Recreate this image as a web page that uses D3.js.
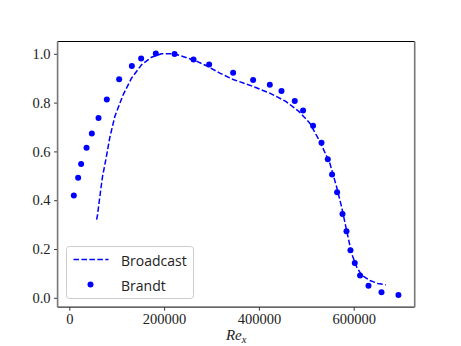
<!DOCTYPE html>
<html lang="en">
<head>
    <meta charset="UTF-8">
    <title>Broadcast vs Brandt</title>
    <script src="https://cdn.jsdelivr.net/npm/d3@7/dist/d3.min.js"></script>
    <style>
        body { margin: 0; background: #fff; }
    </style>
</head>
<body>
<svg width="461" height="346" id="main"></svg>
<script>

    // Broadcast (dashed line)
    let broadcastX = [57600, 59500, 64400, 70000, 77000, 85500, 96000, 113500, 131200, 152300,
        173400, 194500, 219000, 233100, 264800, 289500, 317500, 345600, 387800, 423000,
        456800, 484200, 507400, 528500, 549600, 563800, 574300, 584800, 595400, 606000,
        616500, 634000, 651000, 667800];
    let broadcastY = [0.320, 0.340, 0.415, 0.497, 0.566, 0.658, 0.743, 0.832, 0.900, 0.955,
        0.986, 1.000, 1.000, 0.993, 0.973, 0.951, 0.921, 0.895, 0.866, 0.839,
        0.805, 0.764, 0.716, 0.641, 0.552, 0.456, 0.374, 0.279, 0.183, 0.128,
        0.094, 0.071, 0.059, 0.053];

    // Brandt (dots)
    let brandtX = [9500, 18600, 24900, 36300, 47500, 61600, 79100, 105100, 131900, 151500,
        182500, 222000, 262000, 295000, 345600, 387800, 423000, 447700, 475700, 493200,
        514300, 532100, 545400, 554400, 565000, 576400, 584800, 593200, 602300, 613500,
        631200, 658700, 694500];
    let brandtY = [0.419, 0.492, 0.548, 0.615, 0.673, 0.737, 0.813, 0.896, 0.950, 0.981,
        1.001, 0.999, 0.977, 0.956, 0.922, 0.893, 0.873, 0.848, 0.807, 0.768,
        0.705, 0.636, 0.568, 0.505, 0.433, 0.343, 0.273, 0.195, 0.143, 0.091,
        0.049, 0.023, 0.011];

    let xTicks = [0, 200000, 400000, 600000];
    let yTicks = [0.0, 0.2, 0.4, 0.6, 0.8, 1.0];

    const serif = "'Liberation Serif', 'Times New Roman', 'DejaVu Serif', serif";

    draw();

    function draw() {
        let margin = {top: 41.5, right: 46.1, bottom: 38.4, left: 57.6};
        let width = 460.8, height = 345.6;
        let svg = d3.select('#main');

        let allX = broadcastX.concat(brandtX), allY = broadcastY.concat(brandtY);
        let [x0, x1] = d3.extent(allX), [y0, y1] = d3.extent(allY);
        let px = (x1 - x0) * 0.05, py = (y1 - y0) * 0.05;

        let x = d3.scaleLinear()
            .domain([x0 - px, x1 + px])
            .range([margin.left, width - margin.right]);
        let y = d3.scaleLinear()
            .domain([y0 - py, y1 + py])
            .range([height - margin.bottom, margin.top]);

        let styleTicks = g => {
            g.attr("font-family", null).attr("font-size", null);
            g.select(".domain").remove();
            g.selectAll(".tick line").attr("stroke", "#000").attr("stroke-width", 0.8);
            g.selectAll(".tick text")
                .style("font-family", serif)
                .style("font-size", "14.5px")
                .attr("fill", "#222");
        };

        // axes
        svg.append("g")
            .attr("transform", `translate(0,${height - margin.bottom})`)
            .call(d3.axisBottom(x).tickValues(xTicks).tickFormat(d3.format("d"))
                .tickSize(3.5).tickPadding(3.5).tickSizeOuter(0))
            .call(styleTicks);
        svg.append("g")
            .attr("transform", `translate(${margin.left},0)`)
            .call(d3.axisLeft(y).tickValues(yTicks).tickFormat(d3.format(".1f"))
                .tickSize(3.5).tickPadding(3.5).tickSizeOuter(0))
            .call(styleTicks);

        let line = d3.line()
            .x((d, i) => x(broadcastX[i]))
            .y(d => y(d));
        svg.append("path")
            .datum(broadcastY)
            .attr("fill", "none")
            .attr("stroke", "#0000ff")
            .attr("stroke-width", 1.5)
            .attr("stroke-dasharray", "5.55,2.4")
            .attr("d", line);

        svg.append("g")
            .attr("fill", "#0000ff")
            .selectAll("circle")
            .data(brandtY)
            .join("circle")
            .attr("cx", (d, i) => x(brandtX[i]))
            .attr("cy", d => y(d))
            .attr("r", 3);

        // spines (left/right come out grey in the original)
        let L = margin.left, R = width - margin.right, T = margin.top, B = height - margin.bottom;
        let spines = svg.append("g").attr("fill", "none");
        spines.append("line").attr("x1", L).attr("x2", R).attr("y1", 41.5).attr("y2", 41.5)
            .attr("stroke", "#000").attr("stroke-width", 1);
        spines.append("line").attr("x1", L).attr("x2", R).attr("y1", B).attr("y2", B)
            .attr("stroke", "#333").attr("stroke-width", 1.2);
        spines.append("line").attr("x1", L).attr("x2", L).attr("y1", T).attr("y2", B)
            .attr("stroke", "#777").attr("stroke-width", 1.6);
        spines.append("line").attr("x1", R).attr("x2", R).attr("y1", T).attr("y2", B)
            .attr("stroke", "#777").attr("stroke-width", 1.6);

        // legend
        let lg = svg.append("g");
        lg.append("rect")
            .attr("x", 66.5).attr("y", 246.5).attr("width", 127).attr("height", 52)
            .attr("rx", 3).attr("fill", "#fff").attr("fill-opacity", 0.8)
            .attr("stroke", "#ccc").attr("stroke-width", 1);
        lg.append("line")
            .attr("x1", 73.5).attr("x2", 108.5).attr("y1", 259.5).attr("y2", 259.5)
            .attr("stroke", "#0000ff").attr("stroke-width", 1.5)
            .attr("stroke-dasharray", "5.55,2.4");
        lg.append("circle").attr("cx", 90.5).attr("cy", 284.5).attr("r", 3).attr("fill", "#0000ff");
        lg.selectAll("text.lab")
            .data(["Broadcast", "Brandt"])
            .join("text")
            .attr("class", "lab")
            .attr("x", 121)
            .attr("y", (d, i) => 265.5 + i * 25.5)
            .style("font-family", "'Open Sans', sans-serif")
            .style("font-size", "14px")
            .attr("fill", "#222")
            .text(d => d);

        // x label
        let xl = svg.append("text")
            .attr("x", (L + R) / 2)
            .attr("y", 340)
            .attr("text-anchor", "middle")
            .style("font-family", serif)
            .style("font-style", "italic")
            .style("font-size", "15px")
            .attr("fill", "#222");
        xl.append("tspan").text("Re");
        xl.append("tspan").style("font-size", "10.5px").attr("dy", 2.5).text("x");
    }
</script>
</body>
</html>
